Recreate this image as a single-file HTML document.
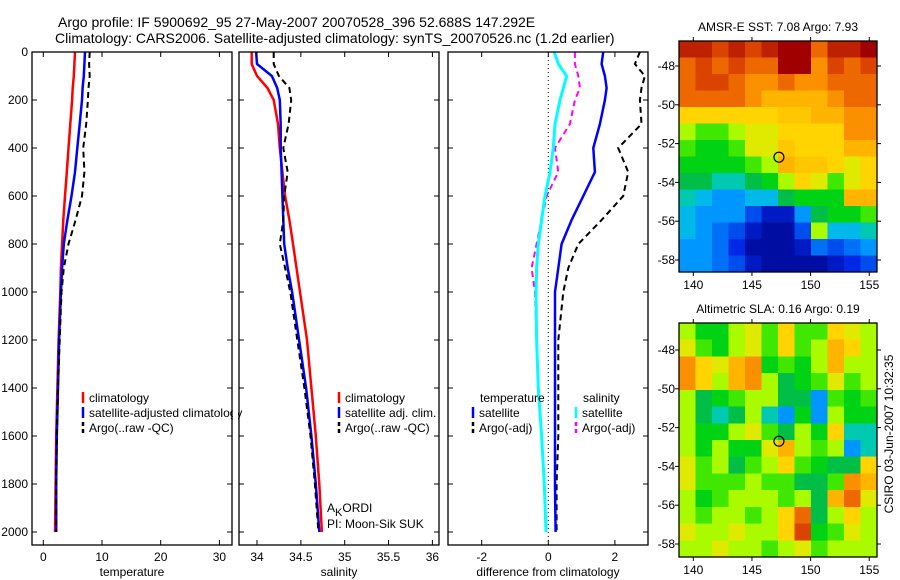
<!DOCTYPE html>
<html><head><meta charset="utf-8"><style>
body{margin:0;background:#fff}
svg{display:block;font-family:"Liberation Sans",sans-serif}
</style></head><body>
<svg id="fig" width="900" height="580" viewBox="0 0 900 580">
<text x="58" y="27" font-size="14">Argo profile: IF 5900692_95 27-May-2007 20070528_396 52.688S 147.292E</text>
<text x="55" y="43" font-size="14">Climatology: CARS2006. Satellite-adjusted climatology: synTS_20070526.nc (1.2d earlier)</text>
<g id="g"></g>
</svg>
<script>
// ---- data ----
const depths=[0,50,100,150,200,300,400,500,600,700,800,900,1000,1200,1400,1600,1800,2000];
const tempClim=[5.4,5.3,5.2,5.0,4.9,4.6,4.3,4.0,3.7,3.4,3.2,3.0,2.9,2.6,2.4,2.2,2.1,2.0];
const tempSat=[7.1,7.0,6.9,6.7,6.6,6.2,5.8,5.4,4.8,4.1,3.5,3.2,3.0,2.7,2.5,2.3,2.2,2.2];
const tempArgo=[7.9,7.8,7.9,7.7,7.6,7.3,6.8,7.0,6.6,5.5,4.3,3.5,3.1,2.8,2.5,2.3,2.2,2.2];
const salClim=[33.94,33.94,34.0,34.12,34.19,34.24,34.26,34.29,34.32,34.37,34.41,34.45,34.49,34.57,34.62,34.67,34.71,34.74];
const salSat=[33.99,34.0,34.17,34.23,34.26,34.27,34.27,34.28,34.29,34.30,34.31,34.35,34.40,34.48,34.56,34.62,34.67,34.71];
const salArgo=[34.19,34.19,34.25,34.37,34.39,34.36,34.30,34.35,34.31,34.30,34.26,34.32,34.38,34.46,34.54,34.61,34.66,34.70];
const dTempSat=[1.65,1.6,1.7,1.75,1.7,1.55,1.35,1.4,1.05,0.7,0.4,0.3,0.2,0.2,0.2,0.2,0.2,0.22];
const dTempArgo=[2.75,2.6,2.9,2.8,2.75,2.8,2.1,2.4,2.25,1.6,0.9,0.6,0.45,0.3,0.3,0.3,0.25,0.25];
const dSalSat=[0.18,0.3,0.55,0.45,0.35,0.2,0.15,0.05,-0.1,-0.2,-0.3,-0.35,-0.37,-0.35,-0.3,-0.2,-0.12,-0.07];
const dSalArgo=[0.8,0.8,0.9,0.95,0.8,0.65,0.2,0.3,-0.05,-0.2,-0.35,-0.5,-0.4,-0.35,-0.3,-0.2,-0.12,-0.07];
const depthTicks=[0,200,400,600,800,1000,1200,1400,1600,1800,2000];
const tempTicks=[0,10,20,30];
const salTicks=[34,34.5,35,35.5,36];
const diffTicks=[-2,0,2];
const lonTicks=[140,145,150,155];
const latTicks=[-48,-50,-52,-54,-56,-58];
const floatLon=147.3, floatLat=-52.7;
const sstGrid=[
[0.95,0.95,0.9,0.95,0.9,0.95,1,1,0.85,0.95,0.95,1],
[0.85,0.9,0.85,0.9,0.85,0.85,1,1,0.8,0.9,0.85,0.9],
[0.85,0.9,0.9,0.85,0.8,0.8,0.85,0.8,0.8,0.85,0.85,0.85],
[0.85,0.85,0.85,0.85,0.8,0.75,0.75,0.75,0.75,0.8,0.85,0.85],
[0.7,0.7,0.7,0.7,0.7,0.7,0.72,0.72,0.75,0.75,0.8,0.8],
[0.6,0.55,0.55,0.6,0.65,0.65,0.7,0.7,0.7,0.7,0.8,0.8],
[0.55,0.5,0.5,0.55,0.65,0.65,0.72,0.7,0.7,0.7,0.75,0.75],
[0.5,0.5,0.5,0.5,0.55,0.6,0.75,0.72,0.72,0.7,0.65,0.7],
[0.45,0.45,0.4,0.4,0.45,0.5,0.6,0.7,0.65,0.55,0.65,0.7],
[0.4,0.35,0.3,0.3,0.35,0.35,0.45,0.5,0.5,0.5,0.75,0.75],
[0.35,0.3,0.3,0.3,0.2,0.1,0.1,0.3,0.45,0.5,0.5,0.55],
[0.35,0.3,0.25,0.2,0.1,0.05,0.05,0.2,0.6,0.35,0.35,0.4],
[0.3,0.3,0.25,0.15,0.05,0.05,0.05,0.1,0.25,0.2,0.25,0.3],
[0.3,0.3,0.25,0.2,0.1,0.05,0.05,0.05,0.05,0.1,0.15,0.2]];
const slaGrid=[
[0.6,0.5,0.5,0.6,0.65,0.55,0.7,0.55,0.55,0.7,0.65,0.6],
[0.65,0.55,0.5,0.6,0.65,0.55,0.7,0.55,0.6,0.75,0.7,0.6],
[0.8,0.7,0.65,0.75,0.8,0.5,0.55,0.5,0.6,0.75,0.6,0.6],
[0.8,0.7,0.6,0.75,0.8,0.6,0.45,0.5,0.55,0.65,0.55,0.6],
[0.6,0.45,0.5,0.55,0.6,0.6,0.45,0.45,0.3,0.55,0.5,0.55],
[0.6,0.45,0.4,0.45,0.6,0.4,0.3,0.5,0.3,0.6,0.5,0.5],
[0.6,0.5,0.5,0.6,0.65,0.55,0.45,0.6,0.5,0.7,0.4,0.4],
[0.6,0.5,0.6,0.5,0.5,0.65,0.75,0.6,0.55,0.6,0.3,0.4],
[0.65,0.55,0.6,0.45,0.55,0.6,0.7,0.55,0.5,0.45,0.45,0.7],
[0.65,0.55,0.55,0.55,0.6,0.55,0.55,0.45,0.45,0.55,0.8,0.75],
[0.6,0.5,0.55,0.6,0.6,0.6,0.55,0.6,0.45,0.75,0.85,0.65],
[0.6,0.55,0.6,0.6,0.55,0.6,0.7,0.85,0.45,0.6,0.7,0.6],
[0.65,0.6,0.6,0.65,0.6,0.6,0.7,0.9,0.5,0.55,0.65,0.6],
[0.6,0.6,0.65,0.6,0.6,0.55,0.6,0.65,0.55,0.6,0.6,0.6]];

// ---- drawing ----
const NS='http://www.w3.org/2000/svg';
const G=document.getElementById('g');
function mk(tag,attrs,parent){const e=document.createElementNS(NS,tag);for(const k in attrs)e.setAttribute(k,attrs[k]);(parent||G).appendChild(e);return e;}
function txt(x,y,s,attrs,parent){const e=mk('text',Object.assign({x:x,y:y,'font-size':12},attrs||{}),parent);e.textContent=s;return e;}
const yD=d=>52+0.24*d;
const TOP=52,BOT=545;
function xScale(x0,ppu,v0){return v=>x0+ppu*(v-v0);}
const panels=[
 {name:'temperature',l:32,r:232,sx:xScale(43.3,5.87,0),ticks:tempTicks,label:'temperature'},
 {name:'salinity',l:239,r:439,sx:xScale(257,87.7,34),ticks:salTicks,label:'salinity'},
 {name:'difference',l:448,r:648,sx:xScale(548.3,33.3,0),ticks:diffTicks,label:'difference from climatology'}];
panels.forEach((p,i)=>{
  const pg=mk('g',{});
  
  
  mk('rect',{x:p.l,y:TOP,width:p.r-p.l,height:BOT-TOP,fill:'#fff'},pg);
  p.g=pg;
});
function line(p,xs,color,w,dash,name){
  const pts=depths.map((d,i)=>p.sx(xs[i]).toFixed(1)+','+yD(d).toFixed(1)).join(' ');
  const e=mk('polyline',{points:pts,fill:'none',stroke:color,'stroke-width':w,'clip-path':'url(#clip'+panels.indexOf(p)+')'},p.g);
  if(dash)e.setAttribute('stroke-dasharray',dash);
  
  
}
const defs=mk('defs',{});
panels.forEach((p,i)=>{const c=mk('clipPath',{id:'clip'+i},defs);mk('rect',{x:p.l,y:TOP,width:p.r-p.l,height:BOT-TOP},c);});
mk('line',{x1:panels[2].sx(0),x2:panels[2].sx(0),y1:TOP,y2:BOT,stroke:'#000','stroke-width':1,'stroke-dasharray':'1,3'},panels[2].g);
line(panels[0],tempClim,'#f00',2.5,null,'temp-climatology-line');
line(panels[0],tempSat,'#00f',2.5,null,'temp-satellite-line');
line(panels[0],tempArgo,'#000',2,'6,4','temp-argo-line');
line(panels[1],salClim,'#f00',2.5,null,'sal-climatology-line');
line(panels[1],salSat,'#00f',2.5,null,'sal-satellite-line');
line(panels[1],salArgo,'#000',2,'6,4','sal-argo-line');
line(panels[2],dSalArgo,'#f0f',2,'6,4','diff-sal-argo-line');
line(panels[2],dTempArgo,'#000',2,'6,4','diff-temp-argo-line');
line(panels[2],dSalSat,'#0ff',3,null,'diff-sal-satellite-line');
line(panels[2],dTempSat,'#00f',2.5,null,'diff-temp-satellite-line');
panels.forEach((p,i)=>{
  mk('rect',{x:p.l,y:TOP,width:p.r-p.l,height:BOT-TOP,fill:'none',stroke:'#000','stroke-width':1.3},p.g);
  depthTicks.forEach(d=>{
    mk('line',{x1:p.l,x2:p.l+5,y1:yD(d),y2:yD(d),stroke:'#000'},p.g);
    mk('line',{x1:p.r,x2:p.r-5,y1:yD(d),y2:yD(d),stroke:'#000'},p.g);
    if(i===0){const t=txt(28,yD(d)+4,String(d),{'text-anchor':'end'},p.g);}
  });
  p.ticks.forEach(v=>{
    const x=p.sx(v);
    mk('line',{x1:x,x2:x,y1:BOT,y2:BOT-5,stroke:'#000'},p.g);
    mk('line',{x1:x,x2:x,y1:TOP,y2:TOP+5,stroke:'#000'},p.g);
    const t=txt(x,561,String(v),{'text-anchor':'middle'},p.g);
    
    
  });
  const xl=txt((p.l+p.r)/2,576,p.label,{'text-anchor':'middle'},p.g);
  
  
});
function leg(x,y,color,dash,label,parent,name){
  const lg=mk('g',{},parent);
  
  
  const l=mk('line',{x1:x,x2:x,y1:y-10,y2:y+1,stroke:color,'stroke-width':2.5},lg);
  if(dash)l.setAttribute('stroke-dasharray','4,3');
  txt(x+6,y,label,{},lg);
}
leg(83,402,'#f00',0,'climatology',G,'legend-entry-climatology');
leg(83,417,'#00f',0,'satellite-adjusted climatology',G,'legend-entry-satellite');
leg(83,432,'#000',1,'Argo(..raw -QC)',G,'legend-entry-argo');
mk('rect',{x:233,y:380,width:5,height:60,fill:'#fff'});
leg(339,402,'#f00',0,'climatology',G,'legend-entry-sal-climatology');
leg(339,417,'#00f',0,'satellite adj. clim.',G,'legend-entry-sal-satellite');
leg(339,432,'#000',1,'Argo(..raw -QC)',G,'legend-entry-sal-argo');
txt(480,402,'temperature',{});
txt(583,402,'salinity',{});
leg(473,417,'#00f',0,'satellite',G,'legend-entry-diff-temp-sat');
leg(473,432,'#000',1,'Argo(-adj)',G,'legend-entry-diff-temp-argo');
leg(576,417,'#0ff',0,'satellite',G,'legend-entry-diff-sal-sat');
leg(576,432,'#f0f',1,'Argo(-adj)',G,'legend-entry-diff-sal-argo');
const ak=mk('text',{x:327,y:512,'font-size':12});

ak.innerHTML='A<tspan dy="4" font-size="11">K</tspan><tspan dy="-4">ORDI</tspan>';
txt(327,528,'PI: Moon-Sik SUK',{});

// maps
const cmapStops=[[0,[0,0,128]],[0.15,[0,40,230]],[0.3,[0,150,255]],[0.38,[0,205,220]],[0.45,[0,190,70]],[0.52,[0,220,0]],[0.6,[170,250,0]],[0.68,[255,225,0]],[0.78,[255,160,0]],[0.88,[230,80,0]],[1,[160,0,0]]];
function cmap(v){
  v=Math.max(0,Math.min(1,v));
  for(let i=1;i<cmapStops.length;i++){
    const [a,ca]=cmapStops[i-1],[b,cb]=cmapStops[i];
    if(v<=b){const t=(v-a)/(b-a);return 'rgb('+ca.map((c,k)=>Math.round(c+(cb[k]-c)*t)).join(',')+')';}
  }
  return 'rgb(160,0,0)';
}
const lonX=lon=>693.3+11.73*(lon-140);
function mapPanel(top,bot,latY,grid,title,name){
  const mg=mk('g',{});
  
  
  const L=679,R=877,rows=grid.length,cols=grid[0].length;
  const cw=(R-L)/cols,ch=(bot-top)/rows;
  grid.forEach((row,r)=>row.forEach((v,c)=>{
    const cell=mk('rect',{x:(L+c*cw).toFixed(2),y:(top+r*ch).toFixed(2),width:(cw+0.5).toFixed(2),height:(ch+0.5).toFixed(2),fill:cmap(v),'shape-rendering':'crispEdges'},mg);
    
    
  }));
  mk('rect',{x:L,y:top,width:R-L,height:bot-top,fill:'none',stroke:'#000','stroke-width':1.3},mg);
  latTicks.forEach(la=>{
    const y=latY(la);
    mk('line',{x1:L-4,x2:L,y1:y,y2:y,stroke:'#000'},mg);
    mk('line',{x1:R,x2:R+4,y1:y,y2:y,stroke:'#000'},mg);
    txt(L-4,y+4,String(la),{'text-anchor':'end'},mg);
  });
  lonTicks.forEach(lo=>{
    const x=lonX(lo);
    mk('line',{x1:x,x2:x,y1:bot,y2:bot+4,stroke:'#000'},mg);
    mk('line',{x1:x,x2:x,y1:top-4,y2:top,stroke:'#000'},mg);
    txt(x,bot+17,String(lo),{'text-anchor':'middle'},mg);
  });
  const fm=mk('circle',{cx:lonX(floatLon),cy:latY(floatLat),r:5,fill:'none',stroke:'#000','stroke-width':1.2},mg);
  
  
  const t=txt((L+R)/2,top-10,title,{'text-anchor':'middle'},mg);
  
  
}
mapPanel(41,272,la=>66+(-48-la)*19.4,sstGrid,'AMSR-E SST: 7.08 Argo: 7.93','sst-map');
mapPanel(323,557,la=>350+(-48-la)*19.4,slaGrid,'Altimetric SLA: 0.16 Argo: 0.19','sla-map');
const cs=txt(0,0,'CSIRO 03-Jun-2007 10:32:35',{'text-anchor':'middle',transform:'translate(893,434) rotate(-90)'});


</script>
</body></html>
